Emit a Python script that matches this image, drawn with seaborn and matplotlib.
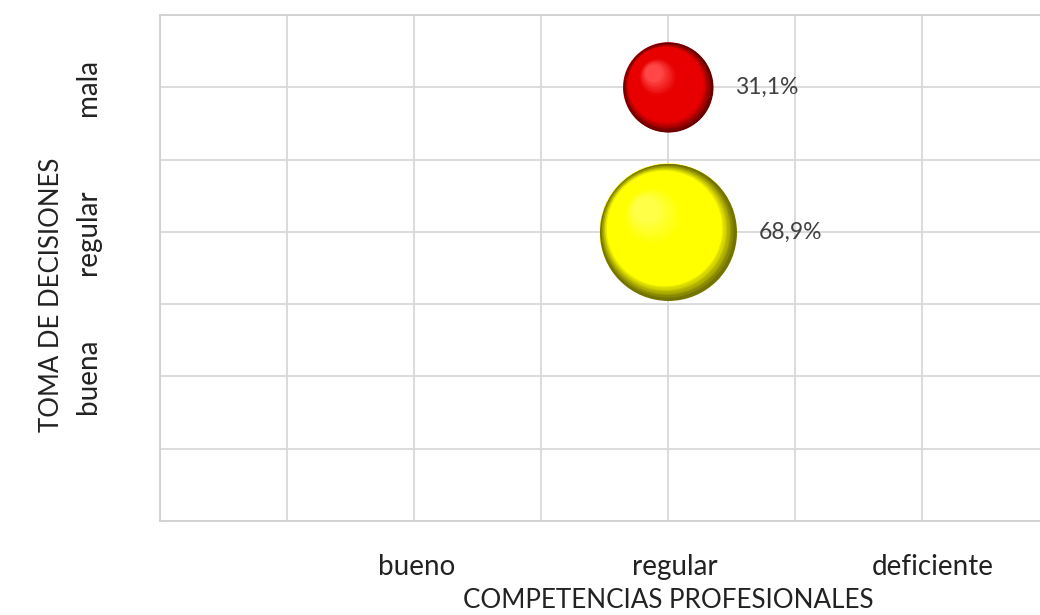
import numpy as np
import pandas as pd
import matplotlib
matplotlib.use("Agg")
import matplotlib.pyplot as plt
import matplotlib.transforms as mtransforms
from matplotlib.colors import to_rgb
import seaborn as sns

# ---- data ----
x_categories = ["bueno", "regular", "deficiente"]
y_categories = ["buena", "regular", "mala"]
bubble_x = ["regular", "regular"]
bubble_y = ["mala", "regular"]
bubble_pct = [31.1, 68.9]
bubble_labels = ["31,1%", "68,9%"]
bubble_colors = ["#e80000", "#ffff00"]
x_title = "COMPETENCIAS PROFESIONALES"
y_title = "TOMA DE DECISIONES"

sns.set_theme(style="white")
plt.rcParams["font.family"] = ["Lato", "DejaVu Sans"]

xpos = {c: i + 1 for i, c in enumerate(x_categories)}
ypos = {c: i + 1 for i, c in enumerate(y_categories)}
df = pd.DataFrame({
    "x": [xpos[c] for c in bubble_x],
    "y": [ypos[c] for c in bubble_y],
    "pct": bubble_pct,
    "label": bubble_labels,
    "color": bubble_colors,
})

fig = plt.figure(figsize=(10.4, 6.15), dpi=100)
ax = fig.add_axes([160 / 1040, 1 - 521 / 615, 889 / 1040, 506 / 615])

size_range = (4200, 9725)
sns.scatterplot(data=df, x="x", y="y", hue="label", palette=dict(zip(df["label"], df["color"])),
                size="pct", sizes=size_range, size_norm=(min(bubble_pct), max(bubble_pct)),
                edgecolor="none", linewidth=0, legend=False, ax=ax, zorder=3)

# sphere shading layers
def scale_size(v):
    lo, hi = min(bubble_pct), max(bubble_pct)
    return size_range[0] + (v - lo) / (hi - lo) * (size_range[1] - size_range[0])

for _, r in df.iterrows():
    s = scale_size(r["pct"])
    d = np.sqrt(s)  # diameter in points
    base = np.array(to_rgb(r["color"]))
    dark = base * 0.45
    light = np.clip(base + np.array([0.22, 0.28, 0.28]), 0, 1)
    ax.scatter([r["x"]], [r["y"]], s=s, color=dark, linewidths=0, zorder=3.1)
    n = 40
    for k in range(n):
        t = k / (n - 1)
        f = 0.985 - 0.8 * t
        off = (1 - f) * d * 0.2
        tr = mtransforms.offset_copy(ax.transData, fig=fig, x=-off, y=off, units="points")
        if t < 0.18:
            c = dark + (base - dark) * (t / 0.18)
        elif t < 0.7:
            c = base
        else:
            c = base + (light - base) * ((t - 0.7) / 0.3)
        ax.scatter([r["x"]], [r["y"]], s=s * f * f, color=np.clip(c, 0, 1),
                   linewidths=0, zorder=3.2 + k * 0.01, transform=tr)
    ax.annotate(r["label"], (r["x"], r["y"]), xytext=(d / 2 + 16, 0), textcoords="offset points",
                va="center", ha="left", fontsize=16.5, color="#404040", zorder=5)

ax.set_xlim(0, 3.5)
ax.set_ylim(0, 3.5)
ax.set_xticks(range(1, len(x_categories) + 1))
ax.set_xticklabels(x_categories, fontsize=20, color="#222222")
ax.set_yticks(range(1, len(y_categories) + 1))
ax.set_yticklabels(y_categories, fontsize=20, color="#222222", rotation=90, va="center", ha="center")
ax.set_xticks(np.arange(0, 3.51, 0.5), minor=True)
ax.set_yticks(np.arange(0, 3.51, 0.5), minor=True)
ax.tick_params(axis="both", which="both", length=0)
ax.tick_params(axis="x", pad=24)
ax.tick_params(axis="y", pad=52)
shift = mtransforms.ScaledTranslation(6 / 100, 0, fig.dpi_scale_trans)
for i, lab in enumerate(ax.get_xticklabels()):
    lab.set_transform(lab.get_transform() + mtransforms.ScaledTranslation((3 + 4 * i) / 100, 0, fig.dpi_scale_trans))
ax.grid(True, which="both", color="#d9d9d9", linewidth=1.3)
ax.set_axisbelow(True)
for sp in ax.spines.values():
    sp.set_color("#d0d0d0")
    sp.set_linewidth(1.3)

ax.set_xlabel(x_title, fontsize=18.7, color="#222222")
ax.xaxis.set_label_coords((668 - 160) / 889, (521 - 601) / 506)
ax.xaxis.label.set_va("center")
ax.set_ylabel(y_title, fontsize=18.5, color="#222222")
ax.yaxis.set_label_coords((52 - 160) / 889, (521 - 295) / 506)
ax.yaxis.label.set_va("center")

fig.savefig("out.png", dpi=100)
